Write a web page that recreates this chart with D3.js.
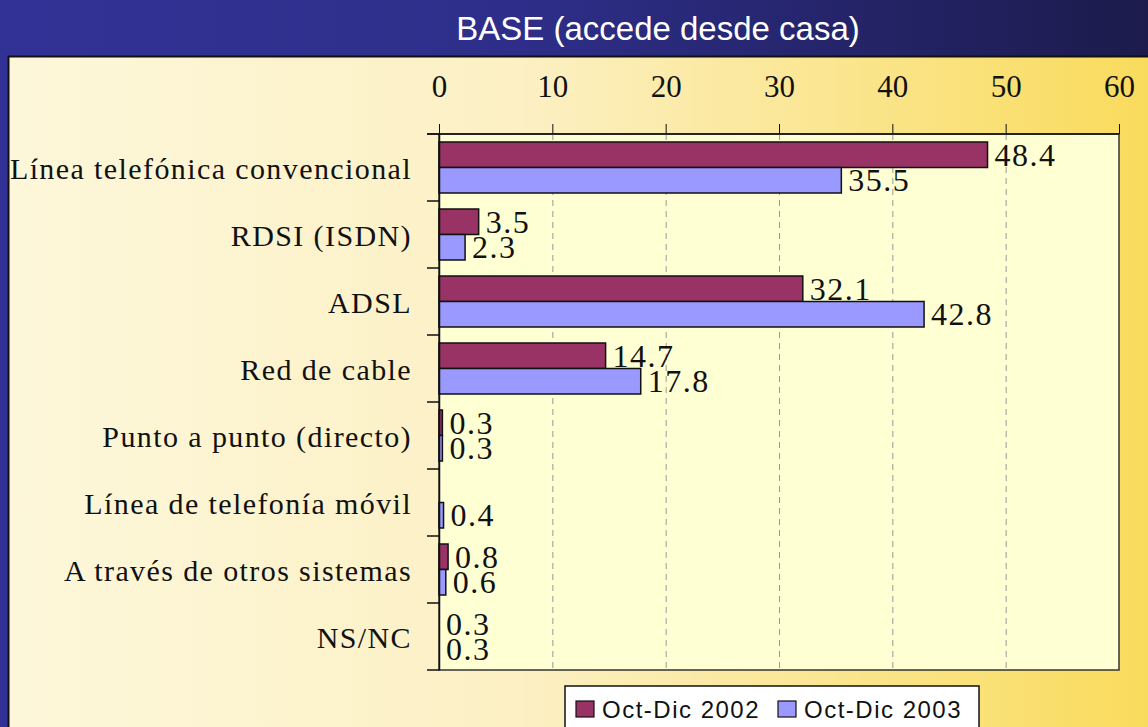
<!DOCTYPE html>
<html>
<head>
<meta charset="utf-8">
<script src="https://cdn.jsdelivr.net/npm/d3@7"></script>
<style>
  body { margin: 0; padding: 0; overflow: hidden; }
  svg { display: block; }
</style>
</head>
<body>
<div id="chart"></div>
<script>
// chart data
var categories = ["Línea telefónica convencional", "RDSI (ISDN)", "ADSL", "Red de cable",
  "Punto a punto (directo)", "Línea de telefonía móvil", "A través de otros sistemas", "NS/NC"];
var seriesNames = ["Oct-Dic 2002", "Oct-Dic 2003"];
var values2002 = [48.4, 3.5, 32.1, 14.7, 0.3, null, 0.8, 0.3];
var values2003 = [35.5, 2.3, 42.8, 17.8, 0.3, 0.4, 0.6, 0.3];
var noBar = ["NS/NC"];   // in the original these show a label but no bar
var xTicks = [0, 10, 20, 30, 40, 50, 60];
var title = "BASE (accede desde casa)";

var width = 1148, height = 727;
var colors = ["#993366", "#9999ff"];

var svg = d3.select("#chart").append("svg")
  .attr("width", width)
  .attr("height", height);

var defs = svg.append("defs");
var gTop = defs.append("linearGradient").attr("id", "gTop");
gTop.append("stop").attr("offset", "0%").attr("stop-color", "#323296");
gTop.append("stop").attr("offset", "45%").attr("stop-color", "#2e2e8a");
gTop.append("stop").attr("offset", "100%").attr("stop-color", "#1c1b4c");
var gPanel = defs.append("linearGradient").attr("id", "gPanel");
gPanel.append("stop").attr("offset", "0%").attr("stop-color", "#fdf7da");
gPanel.append("stop").attr("offset", "45%").attr("stop-color", "#fcf0c4");
gPanel.append("stop").attr("offset", "100%").attr("stop-color", "#f9db5c");

// background
svg.append("rect").attr("width", width).attr("height", height).attr("fill", "url(#gTop)");
svg.append("rect").attr("x", 8).attr("y", 56).attr("width", width - 8).attr("height", height - 56)
  .attr("fill", "url(#gPanel)");
svg.append("path").attr("d", "M8.5," + height + "V56.5H" + width)
  .attr("fill", "none").attr("stroke", "#111").attr("stroke-width", 2);

svg.append("text")
  .attr("x", 658).attr("y", 40)
  .attr("text-anchor", "middle")
  .style("font-family", "Liberation Sans, Arial, sans-serif")
  .style("font-size", "33px")
  .attr("fill", "#fff")
  .text(title);

// scales
var x = d3.scaleLinear().domain([0, 60]).range([439, 1119]);
var y = d3.scaleBand().domain(categories).range([134, 670]);
var ySub = d3.scaleBand().domain(seriesNames).range([8, y.bandwidth() - 8]);

// plot area
svg.append("rect")
  .attr("x", x(0)).attr("y", y.range()[0])
  .attr("width", x(60) - x(0)).attr("height", y.range()[1] - y.range()[0])
  .attr("fill", "#ffffd4")
  .attr("stroke", "#333").attr("stroke-width", 1.5);

svg.append("g").selectAll("line")
  .data(xTicks.slice(1, -1))
  .enter().append("line")
  .attr("x1", function(d) { return x(d) + 0.5; })
  .attr("x2", function(d) { return x(d) + 0.5; })
  .attr("y1", y.range()[0]).attr("y2", y.range()[1])
  .attr("stroke", "#999").attr("stroke-dasharray", "6,5");

// bars
var rows = categories.map(function(c, i) {
  return { cat: c, vals: [values2002[i], values2003[i]] };
});

var groups = svg.append("g").selectAll("g")
  .data(rows)
  .enter().append("g")
  .attr("transform", function(d) { return "translate(0," + y(d.cat) + ")"; });

groups.selectAll("rect")
  .data(function(d) {
    return d.vals.map(function(v, j) { return { cat: d.cat, s: seriesNames[j], v: v, j: j }; })
      .filter(function(e) { return e.v != null && noBar.indexOf(e.cat) < 0; });
  })
  .enter().append("rect")
  .attr("x", x(0))
  .attr("y", function(d) { return ySub(d.s); })
  .attr("width", function(d) { return x(d.v) - x(0); })
  .attr("height", ySub.bandwidth())
  .attr("fill", function(d) { return colors[d.j]; })
  .attr("stroke", "#111")
  .attr("stroke-width", 1.5);

groups.selectAll("text")
  .data(function(d) {
    return d.vals.map(function(v, j) { return { cat: d.cat, s: seriesNames[j], v: v, j: j }; })
      .filter(function(e) { return e.v != null; });
  })
  .enter().append("text")
  .attr("x", function(d) {
    var end = noBar.indexOf(d.cat) < 0 ? x(d.v) : x(0);
    return end + 7;
  })
  .attr("y", function(d) { return ySub(d.s) + ySub.bandwidth() / 2 + 11; })
  .style("font-family", "Liberation Serif, Times New Roman, serif")
  .style("font-size", "32px")
  .style("letter-spacing", "1.5px")
  .attr("fill", "#111")
  .text(function(d) { return d.v.toFixed(1); });

// top axis
var axisTop = d3.axisTop(x).tickValues(xTicks).tickSize(10).tickPadding(27)
  .tickFormat(d3.format("d"));
var gx = svg.append("g").attr("transform", "translate(0," + y.range()[0] + ")").call(axisTop);
gx.select(".domain").remove();
gx.append("line").attr("x1", 427).attr("x2", x(60)).attr("stroke", "#111").attr("stroke-width", 1.5);
gx.selectAll(".tick line").attr("stroke", "#111");
gx.selectAll(".tick text")
  .style("font-family", "Liberation Serif, Times New Roman, serif")
  .style("font-size", "31px")
  .attr("fill", "#111");

// left axis
var axisLeft = d3.axisLeft(y).tickSize(0).tickPadding(27);
var gy = svg.append("g").attr("transform", "translate(" + x(0) + ",0)").call(axisLeft);
gy.select(".domain").attr("stroke", "#111").attr("stroke-width", 1.5);
gy.selectAll(".tick text")
  .attr("dy", null)
  .attr("y", 11)
  .style("font-family", "Liberation Serif, Times New Roman, serif")
  .style("font-size", "30px")
  .style("letter-spacing", "1.4px")
  .attr("fill", "#111");

var bounds = categories.map(function(c) { return y(c); }).concat([y.range()[1]]);
gy.selectAll(".bound")
  .data(bounds)
  .enter().append("line")
  .attr("class", "bound")
  .attr("x1", -12).attr("x2", 0)
  .attr("y1", function(d) { return d; }).attr("y2", function(d) { return d; })
  .attr("stroke", "#111").attr("stroke-width", 1.5);

// legend
var legend = svg.append("g").attr("transform", "translate(565,686)");
legend.append("rect").attr("width", 414).attr("height", 50)
  .attr("fill", "#fff").attr("stroke", "#111").attr("stroke-width", 1.5);
var item = legend.selectAll(".item")
  .data(seriesNames)
  .enter().append("g")
  .attr("class", "item")
  .attr("transform", function(d, i) { return "translate(" + (11 + i * 202) + ",0)"; });
item.append("rect")
  .attr("y", 15).attr("width", 18).attr("height", 16)
  .attr("fill", function(d, i) { return colors[i]; })
  .attr("stroke", "#111").attr("stroke-width", 1.2);
item.append("text")
  .attr("x", 26).attr("y", 32)
  .style("font-family", "Liberation Sans, Arial, sans-serif")
  .style("font-size", "24px")
  .style("letter-spacing", "1.5px")
  .attr("fill", "#111")
  .text(function(d) { return d; });
</script>
</body>
</html>
